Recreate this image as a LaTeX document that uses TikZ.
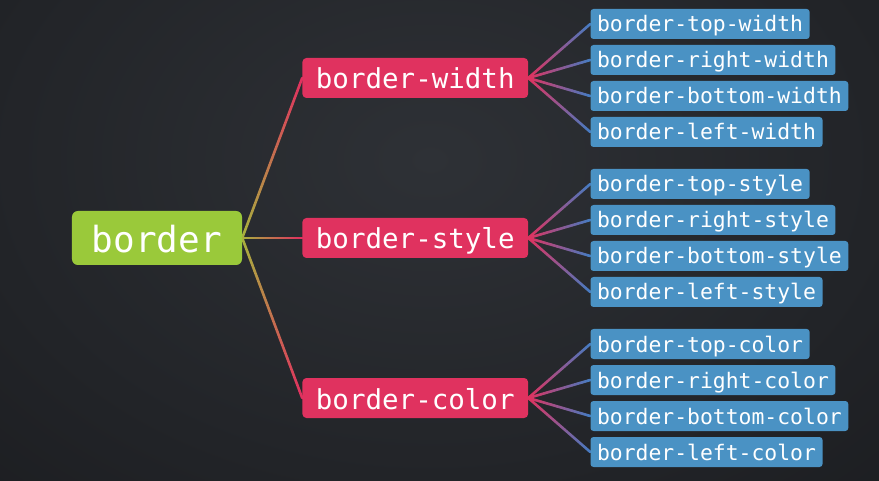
\documentclass[tikz,border=0pt]{standalone}
\usepackage{fontspec}
\setmonofont{DejaVu Sans Mono}
\usepackage{tikz}
\usetikzlibrary{positioning,calc,backgrounds}
\definecolor{bgdark}{RGB}{22,23,26}
\definecolor{bglight}{RGB}{46,49,54}
\definecolor{rootgreen}{RGB}{154,201,58}
\definecolor{midpink}{RGB}{224,50,95}
\definecolor{leafblue}{RGB}{74,146,196}
\definecolor{linkgreen}{RGB}{168,176,62}
\definecolor{linkblue}{RGB}{72,122,192}
\tikzset{
  rootbox/.style={rectangle, rounded corners=6pt, fill=rootgreen, text=white,
                  font=\ttfamily\fontsize{36}{36}\selectfont, minimum height=54pt,
                  inner xsep=20pt, inner ysep=0pt, text height=29pt, text depth=0pt},
  midbox/.style={rootbox, rounded corners=4pt, fill=midpink, text height=22pt,
                 font=\ttfamily\fontsize{27.5}{28}\selectfont, minimum height=40pt, inner xsep=13.5pt},
  leafbox/.style={rootbox, rounded corners=3pt, fill=leafblue, text height=16pt,
                  font=\ttfamily\fontsize{21.4}{22}\selectfont, minimum height=30pt, inner xsep=6.5pt},
  link/.style={line width=2.6pt, line cap=round},
}
\newcommand{\gradlink}[4]{%
  \foreach \k in {0,...,23}{%
    \pgfmathtruncatemacro{\mixa}{100*\k/23}%
    \pgfmathsetmacro{\ta}{\k/24}%
    \pgfmathsetmacro{\tb}{(\k+1)/24}%
    \colorlet{linkcol}{#4!\mixa!#3}%
    \draw[link, linkcol] ($(#1)!\ta!(#2)$) -- ($(#1)!\tb!(#2)$);
  }}

\begin{document}
\begin{tikzpicture}
\useasboundingbox (0,0) rectangle (879pt,480pt);
\node[rootbox] (root) at (157pt,242pt) {border};
\node[midbox, right=60pt of root, yshift=160pt] (bwidth) {border-width};
\node[midbox, right=60pt of root] (bstyle) {border-style};
\node[midbox, right=60pt of root, yshift=-160pt] (bcolor) {border-color};

\node[leafbox, right=62pt of bwidth, yshift=54pt] (wtop) {border-top-width};
\node[leafbox, right=62pt of bwidth, yshift=18pt] (wright) {border-right-width};
\node[leafbox, right=62pt of bwidth, yshift=-18pt] (wbottom) {border-bottom-width};
\node[leafbox, right=62pt of bwidth, yshift=-54pt] (wleft) {border-left-width};

\node[leafbox, right=62pt of bstyle, yshift=54pt] (stop) {border-top-style};
\node[leafbox, right=62pt of bstyle, yshift=18pt] (sright) {border-right-style};
\node[leafbox, right=62pt of bstyle, yshift=-18pt] (sbottom) {border-bottom-style};
\node[leafbox, right=62pt of bstyle, yshift=-54pt] (sleft) {border-left-style};

\node[leafbox, right=62pt of bcolor, yshift=54pt] (ctop) {border-top-color};
\node[leafbox, right=62pt of bcolor, yshift=18pt] (cright) {border-right-color};
\node[leafbox, right=62pt of bcolor, yshift=-18pt] (cbottom) {border-bottom-color};
\node[leafbox, right=62pt of bcolor, yshift=-54pt] (cleft) {border-left-color};

\begin{scope}[on background layer]
  \fill[bgdark] (0,0) rectangle (879pt,480pt);
  \begin{scope}
    \clip (0,0) rectangle (879pt,480pt);
    \shade[inner color=bglight, outer color=bgdark] (430pt,320pt) ellipse (900pt and 640pt);
  \end{scope}
  \foreach \m in {bwidth,bstyle,bcolor}
    {\gradlink{root.east}{\m.west}{linkgreen}{midpink}}
  \foreach \l in {wtop,wright,wbottom,wleft}
    {\gradlink{bwidth.east}{\l.west}{midpink}{linkblue}}
  \foreach \l in {stop,sright,sbottom,sleft}
    {\gradlink{bstyle.east}{\l.west}{midpink}{linkblue}}
  \foreach \l in {ctop,cright,cbottom,cleft}
    {\gradlink{bcolor.east}{\l.west}{midpink}{linkblue}}
\end{scope}
\end{tikzpicture}
\end{document}
